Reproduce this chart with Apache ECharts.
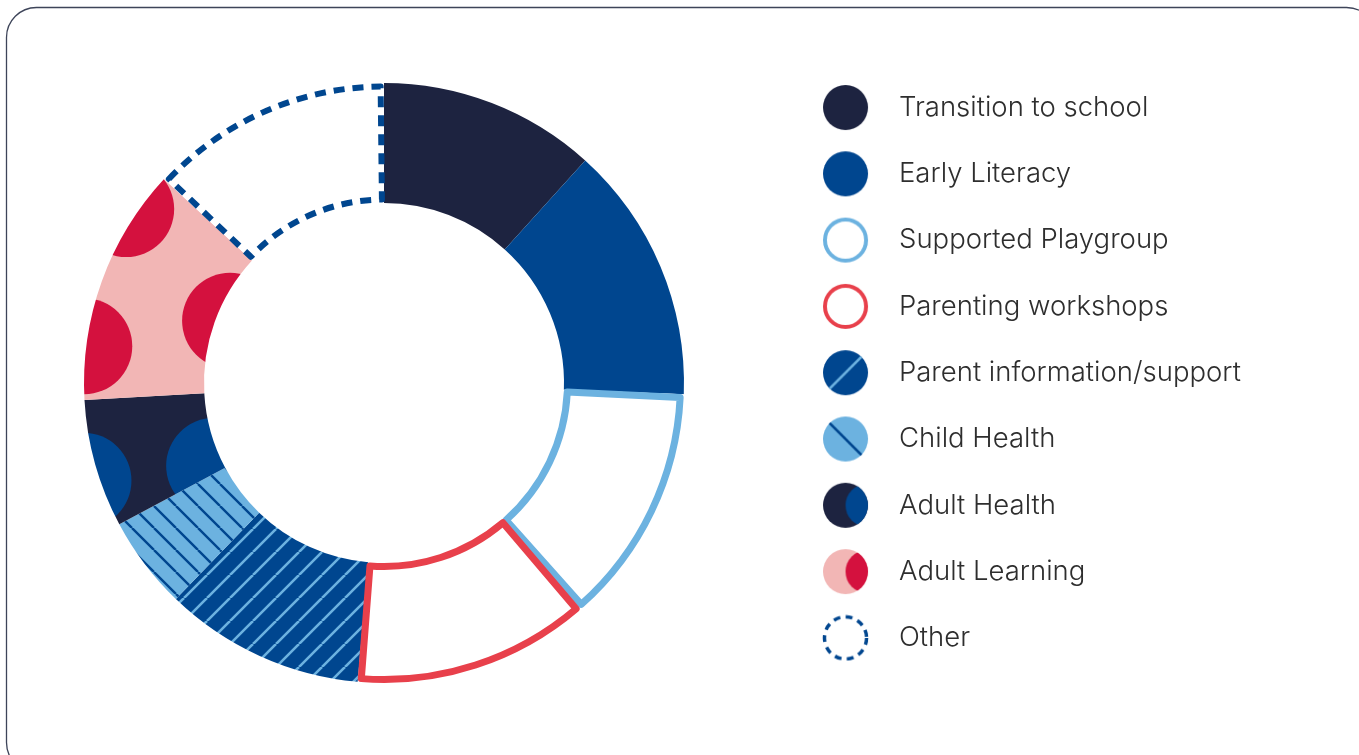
<!DOCTYPE html>
<html lang="en">
<head>
    <meta charset="UTF-8">
    <title>Program mix</title>
    <script src="https://cdn.jsdelivr.net/npm/echarts@6/dist/echarts.min.js"></script>
    <style>
        html, body {
            margin: 0;
            padding: 0;
            background: #fff;
        }

        #chart {
            width: 1359px;
            height: 755px;
        }
    </style>
</head>

<body>
<div id="chart"></div>

<script>
    // data (share of the ring, %)
    const categories = [
        'Transition to school',
        'Early Literacy',
        'Supported Playgroup',
        'Parenting workshops',
        'Parent information/support',
        'Child Health',
        'Adult Health',
        'Adult Learning',
        'Other'
    ];
    const values = [11.7, 13.9, 13.0, 12.8, 10.8, 5.0, 6.9, 12.8, 13.1];

    const navy = '#1d2340', blue = '#00468f', sky = '#6cb2e0',
        red = '#e8404b', crimson = '#d4113e', pink = '#f2b6b5';

    const W = 1359, H = 755;
    const cx = 384, cy = 383, rIn = 180, rOut = 300;

    // diagonal stripe tile
    function stripes(bg, fg, dir, size, lw) {
        const c = document.createElement('canvas');
        c.width = c.height = size;
        const g = c.getContext('2d');
        g.fillStyle = bg;
        g.fillRect(0, 0, size, size);
        g.strokeStyle = fg;
        g.lineWidth = lw;
        g.beginPath();
        for (let k = -1; k <= 1; k++) {
            if (dir === '/') {
                g.moveTo(k * size, size);
                g.lineTo(k * size + size, 0);
            } else {
                g.moveTo(k * size, 0);
                g.lineTo(k * size + size, size);
            }
        }
        g.stroke();
        return {image: c, repeat: 'repeat'};
    }

    // big dots sitting on the ring edges, [angle from 12 o'clock, distance from centre]
    function dots(bg, fg, list, rad) {
        const c = document.createElement('canvas');
        c.width = W;
        c.height = H;
        const g = c.getContext('2d');
        g.fillStyle = bg;
        g.fillRect(0, 0, W, H);
        g.fillStyle = fg;
        list.forEach(([a, d]) => {
            const t = a * Math.PI / 180;
            g.beginPath();
            g.arc(cx + d * Math.sin(t), cy - d * Math.cos(t), rad, 0, Math.PI * 2);
            g.fill();
        });
        return {image: c, repeat: 'no-repeat'};
    }

    // legend icons
    function icon(draw) {
        const c = document.createElement('canvas');
        c.width = c.height = 48;
        const g = c.getContext('2d');
        draw(g);
        return 'image://' + c.toDataURL();
    }

    function disc(g, col) {
        g.fillStyle = col;
        g.beginPath();
        g.arc(24, 24, 23, 0, Math.PI * 2);
        g.fill();
    }

    function clipDisc(g) {
        g.beginPath();
        g.arc(24, 24, 23, 0, Math.PI * 2);
        g.clip();
    }

    const icons = [
        icon(g => disc(g, navy)),
        icon(g => disc(g, blue)),
        icon(g => {
            g.strokeStyle = sky; g.lineWidth = 4;
            g.beginPath(); g.arc(24, 24, 21, 0, Math.PI * 2); g.stroke();
        }),
        icon(g => {
            g.strokeStyle = red; g.lineWidth = 4;
            g.beginPath(); g.arc(24, 24, 21, 0, Math.PI * 2); g.stroke();
        }),
        icon(g => {
            disc(g, blue); clipDisc(g);
            g.strokeStyle = sky; g.lineWidth = 2.5;
            g.beginPath(); g.moveTo(4, 44); g.lineTo(44, 4); g.stroke();
        }),
        icon(g => {
            disc(g, sky); clipDisc(g);
            g.strokeStyle = blue; g.lineWidth = 2.5;
            g.beginPath(); g.moveTo(4, 4); g.lineTo(44, 44); g.stroke();
        }),
        icon(g => {
            disc(g, navy); clipDisc(g);
            g.fillStyle = blue;
            g.beginPath(); g.arc(46, 24, 22, 0, Math.PI * 2); g.fill();
        }),
        icon(g => {
            disc(g, pink); clipDisc(g);
            g.fillStyle = crimson;
            g.beginPath(); g.arc(46, 24, 22, 0, Math.PI * 2); g.fill();
        }),
        icon(g => {
            g.strokeStyle = blue; g.lineWidth = 3.5; g.setLineDash([7, 5.6]);
            g.beginPath(); g.arc(24, 24, 21.5, 0, Math.PI * 2); g.stroke();
        })
    ];

    // filled slices; outlined ones are plain white here
    const fills = [
        {color: navy},
        {color: blue},
        {color: '#fff'},
        {color: '#fff'},
        {color: stripes(blue, sky, '/', 23, 2.6)},
        {color: stripes(sky, blue, '\\', 22, 2.4)},
        {color: dots(navy, blue, [[252, 316], [244, 189]], 48)},
        {color: dots(pink, crimson, [[277, 302], [292, 166], [304, 311]], 48)},
        {color: '#fff'}
    ];

    // outlines, drawn on a slightly inset ring so the stroke sits inside the slice
    const none = {color: 'rgba(0,0,0,0)', borderWidth: 0};
    const outlines = [
        none, none,
        {color: 'rgba(0,0,0,0)', borderColor: sky, borderWidth: 7},
        {color: 'rgba(0,0,0,0)', borderColor: red, borderWidth: 7},
        none, none, none, none,
        {color: 'rgba(0,0,0,0)', borderColor: blue, borderWidth: 6, borderType: [11, 8]}
    ];

    const base = {
        type: 'pie',
        center: [cx, cy],
        startAngle: 90,
        clockwise: true,
        silent: true,
        label: {show: false},
        labelLine: {show: false},
        emphasis: {disabled: true}
    };

    const chart = echarts.init(document.getElementById('chart'));
    chart.setOption({
        animation: false,
        backgroundColor: '#fff',
        graphic: [{
            type: 'rect',
            shape: {x: 6.5, y: 7.5, width: 1370, height: 765, r: 30},
            style: {fill: 'none', stroke: '#3d4459', lineWidth: 1.3},
            silent: true,
            z: -1
        }],
        legend: {
            orient: 'vertical',
            left: 817,
            top: 79,
            itemWidth: 47,
            itemHeight: 47,
            itemGap: 19.3,
            selectedMode: false,
            data: categories.map((n, i) => ({name: n, icon: icons[i]})),
            textStyle: {
                fontFamily: 'Inter',
                fontWeight: 300,
                fontSize: 27.5,
                color: '#2e2e2e',
                padding: [0, 0, 0, 25]
            }
        },
        series: [
            Object.assign({}, base, {
                radius: [rIn, rOut],
                data: categories.map((n, i) => ({value: values[i], name: n, itemStyle: fills[i]}))
            }),
            Object.assign({}, base, {
                radius: [rIn + 3.5, rOut - 3.5],
                padAngle: 1.3,
                z: 3,
                data: categories.map((n, i) => ({value: values[i], name: n, itemStyle: outlines[i]}))
            })
        ]
    });
</script>
</body>

</html>
